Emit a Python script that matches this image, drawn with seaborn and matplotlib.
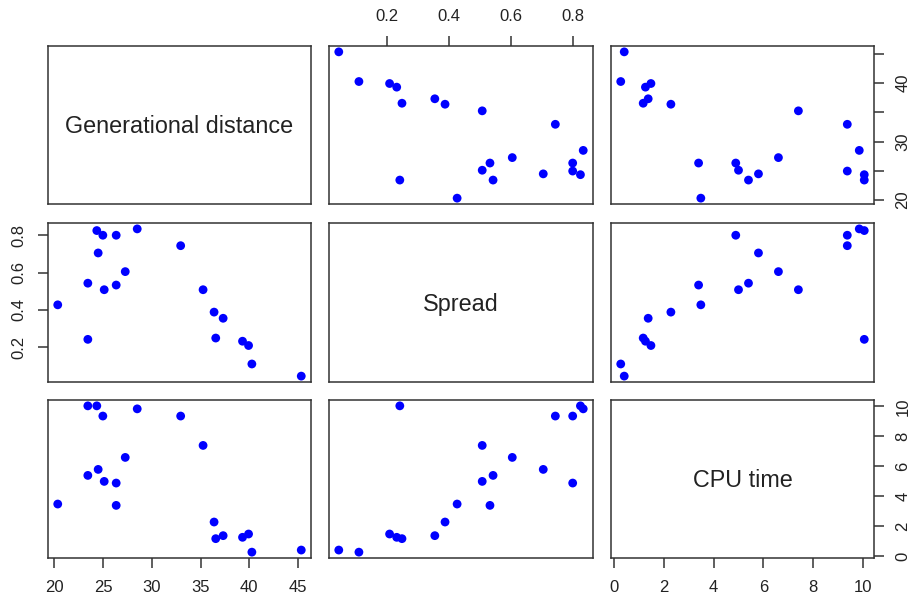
import matplotlib
matplotlib.use("Agg")
import matplotlib.pyplot as plt
import seaborn as sns
import numpy as np
import pandas as pd

# Data
gen_distance = [20.34, 23.43, 23.43, 24.35, 24.49, 24.97, 25.11, 26.34, 26.34, 27.27,
                28.50, 32.96, 35.26, 36.39, 36.56, 37.32, 39.31, 39.93, 40.27, 45.34]
spread = [0.427, 0.543, 0.242, 0.825, 0.705, 0.800, 0.508, 0.800, 0.533, 0.605,
          0.834, 0.744, 0.508, 0.388, 0.249, 0.355, 0.232, 0.209, 0.110, 0.045]
cpu_time = [3.49, 5.40, 10.04, 10.04, 5.80, 9.36, 5.00, 4.89, 3.40, 6.60,
            9.84, 9.36, 7.40, 2.29, 1.18, 1.38, 1.27, 1.49, 0.28, 0.42]

var_names = ["Generational distance", "Spread", "CPU time"]
gd_ticks = [20, 25, 30, 35, 40, 45]
gd_right_labels = ["20", "", "30", "", "40", ""]
spread_ticks = [0.2, 0.4, 0.6, 0.8]
cpu_ticks = [0, 2, 4, 6, 8, 10]

df = pd.DataFrame({"Generational distance": gen_distance,
                   "Spread": spread,
                   "CPU time": cpu_time})

sns.set_theme(style="white")
plt.rcParams["font.family"] = ["Liberation Sans", "DejaVu Sans"]

W, H = 910, 596
fig = plt.figure(figsize=(W / 100, H / 100), dpi=100)

cols = [(48, 311), (329, 593), (611, 874)]
rows = [(46, 204), (223, 382), (400, 558)]


def lims(v):
    lo, hi = min(v), max(v)
    e = (hi - lo) * 0.04
    return lo - e, hi + e


limits = {n: lims(df[n]) for n in var_names}
tick_fs = 12
axes = {}
for i, (y0, y1) in enumerate(rows):
    for j, (x0, x1) in enumerate(cols):
        ax = fig.add_axes([x0 / W, 1 - y1 / H, (x1 - x0) / W, (y1 - y0) / H])
        axes[(i, j)] = ax
        xv, yv = var_names[j], var_names[i]
        if i == j:
            ax.text(0.5, 0.49, xv, transform=ax.transAxes, ha="center", va="center",
                    fontsize=16.8, color="#222222")
        else:
            sns.scatterplot(data=df, x=xv, y=yv, ax=ax, color="#0000ff", s=40,
                            edgecolor="none", linewidth=0, legend=False)
        ax.set_xlim(limits[xv])
        ax.set_ylim(limits[yv])
        ax.set_xlabel("")
        ax.set_ylabel("")
        ax.set_xticks([])
        ax.set_yticks([])
        for sp in ax.spines.values():
            sp.set_visible(True)
            sp.set_color("#333333")
            sp.set_linewidth(1.1)

tick_kw = dict(length=7.5, width=1.1, color="#333333", labelsize=tick_fs,
               labelcolor="#222222", direction="out", pad=8)

# top axis on (0,1): spread
ax = axes[(0, 1)]
ax.xaxis.tick_top()
ax.set_xticks(spread_ticks)
ax.set_xticklabels([f"{t:.1f}" for t in spread_ticks])
ax.tick_params(axis="x", which="both", top=True, bottom=False, **tick_kw)

# right axis on (0,2): generational distance
ax = axes[(0, 2)]
ax.yaxis.tick_right()
ax.set_yticks(gd_ticks)
ax.set_yticklabels(gd_right_labels, rotation=90, va="center")
ax.tick_params(axis="y", which="both", right=True, left=False, **tick_kw)

# left axis on (1,0): spread
ax = axes[(1, 0)]
ax.set_yticks(spread_ticks)
ax.set_yticklabels([f"{t:.1f}" for t in spread_ticks], rotation=90, va="center")
ax.tick_params(axis="y", which="both", left=True, right=False, **tick_kw)

# bottom axis on (2,0): generational distance
ax = axes[(2, 0)]
ax.set_xticks(gd_ticks)
ax.set_xticklabels([str(t) for t in gd_ticks])
ax.tick_params(axis="x", which="both", bottom=True, top=False, **tick_kw)

# bottom + right axes on (2,2): cpu time
ax = axes[(2, 2)]
ax.set_xticks(cpu_ticks)
ax.set_xticklabels([str(t) for t in cpu_ticks])
ax.tick_params(axis="x", which="both", bottom=True, top=False, **tick_kw)
ax.yaxis.tick_right()
ax.set_yticks(cpu_ticks)
ax.set_yticklabels([str(t) for t in cpu_ticks], rotation=90, va="center")
ax.tick_params(axis="y", which="both", right=True, left=False, **tick_kw)

fig.savefig("out.png", dpi=100, facecolor="white")
